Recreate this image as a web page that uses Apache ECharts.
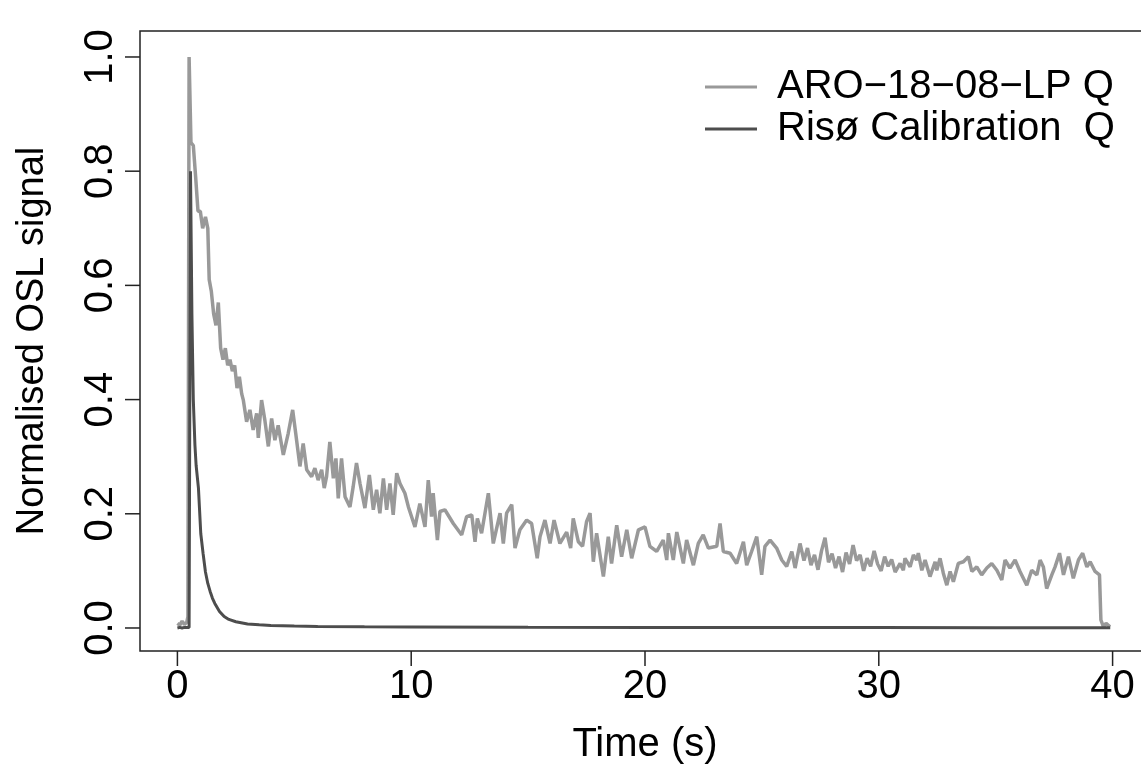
<!DOCTYPE html>
<html>
<head>
<meta charset="utf-8">
<script src="https://cdn.jsdelivr.net/npm/echarts@6/dist/echarts.min.js"></script>
<style>
html,body{margin:0;padding:0;background:#fff;}
#chart{width:1141px;height:772px;}
</style>
</head>
<body>
<div id="chart"></div>
<script>
// ---- data ----
const seriesNames = ['ARO\u221218\u221208\u2212LP Q', 'Ris\u00f8 Calibration  Q'];
const xTicks = [0, 10, 20, 30, 40];
const yTicks = [0, 0.2, 0.4, 0.6, 0.8, 1.0];

const aroTime = [
  0, 0.1, 0.2, 0.3, 0.4, 0.45, 0.5, 0.58, 0.68, 0.78, 0.88, 0.98, 1.08, 1.2, 1.3, 1.36, 1.45, 1.55, 1.65, 1.75,
  1.85, 1.95, 2.05, 2.15, 2.25, 2.35, 2.45, 2.55, 2.65, 2.75,
  2.82, 2.96, 3.10, 3.24, 3.39, 3.46, 3.60, 3.74, 3.89, 4.03, 4.17, 4.31, 4.53, 4.74, 4.93, 5.06, 5.24, 5.38, 5.53, 5.74,
  5.88, 6.02, 6.17, 6.28, 6.38, 6.52, 6.67, 6.78, 6.88, 7.02, 7.17, 7.38, 7.52, 7.66, 7.81, 8.02, 8.21, 8.38, 8.52, 8.66,
  8.81, 8.95, 9.09, 9.23, 9.38, 9.52, 9.73, 9.88, 10.16, 10.37, 10.59, 10.73,
  10.87, 10.94, 11.12, 11.23, 11.44, 11.80, 12.16, 12.37, 12.59, 12.73, 12.83, 13.01, 13.30, 13.51, 13.80, 13.94, 14.08, 14.30, 14.44, 14.65,
  14.94, 15.15, 15.39, 15.51, 15.72, 15.94, 16.11, 16.36, 16.65, 16.82, 16.93, 17.15, 17.33, 17.50, 17.65, 17.79, 17.93, 18.22, 18.43, 18.57,
  18.79, 19.00, 19.22, 19.43, 19.72, 20.00, 20.21, 20.50, 20.78, 20.93, 21.00, 21.21, 21.36, 21.64, 21.78, 22.07, 22.28, 22.49, 22.71, 23.07,
  23.21, 23.35, 23.64, 23.92, 24.21, 24.35, 24.56, 24.78, 24.99, 25.13, 25.35, 25.63, 25.85, 26.06, 26.28, 26.42, 26.63,
  26.8, 26.95, 27.1, 27.25, 27.4, 27.55, 27.7, 27.85, 28.0, 28.15, 28.3, 28.45, 28.6, 28.75, 28.9, 29.05, 29.2, 29.35, 29.5, 29.65,
  29.8, 29.95, 30.1, 30.25, 30.4, 30.55, 30.7,
  30.91, 31.05, 31.12, 31.34, 31.48, 31.62, 31.69, 31.84, 31.98, 32.19, 32.41, 32.48, 32.62, 32.76, 32.91, 33.05, 33.19, 33.40, 33.62, 33.83,
  33.98, 34.19, 34.40, 34.62, 34.83, 35.05, 35.26, 35.40, 35.61, 35.83, 36.04, 36.33, 36.54, 36.76, 36.90, 37.04, 37.18, 37.40, 37.54, 37.73,
  37.90, 38.11, 38.32, 38.54, 38.72, 38.90, 39.04, 39.25, 39.44, 39.50, 39.61, 39.72, 39.89
];
const aroSignal = [
  0.008, 0.005, 0.012, 0.006, 0.010, 0.020, 1.000, 0.850, 0.845, 0.790, 0.730, 0.730, 0.700, 0.720, 0.700, 0.610, 0.590, 0.550, 0.530, 0.570,
  0.490, 0.470, 0.490, 0.460, 0.470, 0.450, 0.460, 0.420, 0.440, 0.410,
  0.399, 0.361, 0.382, 0.347, 0.376, 0.333, 0.399, 0.364, 0.318, 0.367, 0.329, 0.355, 0.303, 0.341, 0.382, 0.341, 0.283, 0.323, 0.277, 0.265,
  0.280, 0.259, 0.277, 0.245, 0.265, 0.326, 0.262, 0.297, 0.227, 0.297, 0.230, 0.212, 0.248, 0.289, 0.253, 0.210, 0.268, 0.207, 0.242, 0.201,
  0.262, 0.207, 0.253, 0.198, 0.271, 0.253, 0.236, 0.212, 0.177, 0.218, 0.177, 0.259,
  0.195, 0.236, 0.154, 0.204, 0.207, 0.183, 0.163, 0.195, 0.198, 0.151, 0.192, 0.166, 0.236, 0.148, 0.201, 0.148, 0.201, 0.216, 0.140, 0.172,
  0.189, 0.183, 0.122, 0.160, 0.189, 0.148, 0.189, 0.148, 0.168, 0.140, 0.192, 0.151, 0.143, 0.186, 0.201, 0.116, 0.166, 0.090, 0.160, 0.113,
  0.180, 0.125, 0.172, 0.122, 0.172, 0.177, 0.143, 0.134, 0.154, 0.119, 0.166, 0.119, 0.168, 0.113, 0.154, 0.110, 0.148, 0.163, 0.140, 0.143,
  0.183, 0.134, 0.131, 0.113, 0.151, 0.110, 0.134, 0.160, 0.093, 0.143, 0.154, 0.140, 0.119, 0.108, 0.134, 0.105, 0.148,
  0.118, 0.140, 0.110, 0.128, 0.102, 0.135, 0.158, 0.115, 0.130, 0.105, 0.125, 0.098, 0.132, 0.112, 0.145, 0.118, 0.128, 0.100, 0.122, 0.108,
  0.135, 0.112, 0.100, 0.125, 0.108, 0.120, 0.098,
  0.113, 0.101, 0.122, 0.107, 0.128, 0.119, 0.131, 0.101, 0.119, 0.090, 0.116, 0.101, 0.122, 0.096, 0.075, 0.099, 0.081, 0.113, 0.116, 0.125,
  0.099, 0.107, 0.093, 0.105, 0.113, 0.101, 0.084, 0.119, 0.105, 0.119, 0.099, 0.075, 0.101, 0.093, 0.119, 0.107, 0.069, 0.093, 0.107, 0.131,
  0.093, 0.125, 0.087, 0.119, 0.131, 0.107, 0.116, 0.099, 0.093, 0.014, 0.002, 0.008, 0.002
];

const risoTime = [
  0, 0.1, 0.2, 0.3, 0.4, 0.5, 0.56, 0.62, 0.68, 0.75, 0.8, 0.9, 1.0, 1.1, 1.2, 1.3, 1.4, 1.5, 1.6, 1.8,
  2.0, 2.2, 2.5, 3.0, 3.5, 4, 5, 6, 8, 10, 15, 20, 25, 30, 35, 39.4, 39.6, 39.9
];
const risoSignal = [
  0, 0.001, 0, 0.001, 0.001, 0.001, 0.800, 0.550, 0.400, 0.320, 0.285, 0.245, 0.165, 0.130, 0.098, 0.078, 0.064, 0.052, 0.043, 0.029,
  0.020, 0.015, 0.011, 0.007, 0.0055, 0.0045, 0.0033, 0.0027, 0.0020, 0.0017, 0.0012, 0.0010, 0.0008, 0.0007, 0.0006, 0.0005, 0.0003, 0.0003
];

// ---- chart ----
const FONT = '"Liberation Sans", Arial, Helvetica, sans-serif';
const aroColor = '#999999';
const risoColor = '#4d4d4d';
const axisColor = '#222';
const X_RANGE = [-1.6, 41.6];        // R's 4% extended range
const Y_RANGE = [-0.0403, 1.0455];
const TICK_LEN = 15;

function zip(a, b) { return a.map((t, i) => [t, b[i]]); }

// outward tick marks at the box edge, placed through the axis scales
function tickSeries(values, dim) {
  return {
    type: 'custom', silent: true, clip: false, z: 5, tooltip: { show: false },
    data: values.map(v => dim === 'x' ? [v, Y_RANGE[0]] : [X_RANGE[0], v]),
    encode: { x: 0, y: 1 },
    renderItem: (params, api) => {
      const p = api.coord([api.value(0), api.value(1)]);
      const shape = dim === 'x'
        ? { x1: p[0], y1: p[1], x2: p[0], y2: p[1] + TICK_LEN }
        : { x1: p[0] - TICK_LEN, y1: p[1], x2: p[0], y2: p[1] };
      return { type: 'line', shape, style: { stroke: axisColor, lineWidth: 1.5 } };
    }
  };
}

const chart = echarts.init(document.getElementById('chart'), null, { renderer: 'canvas' });
chart.setOption({
  animation: false,
  backgroundColor: '#ffffff',
  textStyle: { fontFamily: FONT },
  grid: {
    left: 140, top: 31, width: 1010, height: 620,
    show: true, borderColor: axisColor, borderWidth: 1.5, backgroundColor: 'transparent',
    outerBoundsMode: 'none'
  },
  legend: {
    left: 700, top: 62, orient: 'vertical',
    itemWidth: 52, itemHeight: 3, itemGap: 2, icon: 'rect',
    textStyle: { fontSize: 40, color: '#000', fontFamily: FONT, padding: [0, 0, 0, 15] },
    data: [
      { name: seriesNames[0], itemStyle: { color: aroColor } },
      { name: seriesNames[1], itemStyle: { color: risoColor } }
    ]
  },
  xAxis: {
    type: 'value', min: X_RANGE[0], max: X_RANGE[1], position: 'bottom',
    name: 'Time (s)', nameLocation: 'middle', nameGap: 74,
    nameTextStyle: { fontSize: 40, color: '#000', fontFamily: FONT },
    axisLine: { show: false, onZero: false },
    splitLine: { show: false },
    axisTick: { show: false },
    axisLabel: { show: true, customValues: xTicks, fontSize: 40, color: '#000', margin: 16, fontFamily: FONT }
  },
  yAxis: {
    type: 'value', min: Y_RANGE[0], max: Y_RANGE[1], position: 'left',
    name: 'Normalised OSL signal', nameLocation: 'middle', nameGap: 88, nameRotate: 90,
    nameTextStyle: { fontSize: 38, color: '#000', fontFamily: FONT },
    axisLine: { show: false, onZero: false },
    splitLine: { show: false },
    axisTick: { show: false },
    axisLabel: { show: true, customValues: yTicks, fontSize: 40, color: '#000', margin: 19, rotate: 90, fontFamily: FONT,
      formatter: v => v.toFixed(1) }
  },
  series: [
    {
      name: seriesNames[0], type: 'line', data: zip(aroTime, aroSignal),
      showSymbol: false, symbol: 'none', lineStyle: { color: aroColor, width: 3.5 },
      itemStyle: { color: aroColor }, clip: true
    },
    {
      name: seriesNames[1], type: 'line', data: zip(risoTime, risoSignal),
      showSymbol: false, symbol: 'none', lineStyle: { color: risoColor, width: 3 },
      itemStyle: { color: risoColor }, clip: true
    },
    Object.assign({ name: 'xTicks' }, tickSeries(xTicks, 'x')),
    Object.assign({ name: 'yTicks' }, tickSeries(yTicks, 'y'))
  ]
});
</script>
</body>
</html>
